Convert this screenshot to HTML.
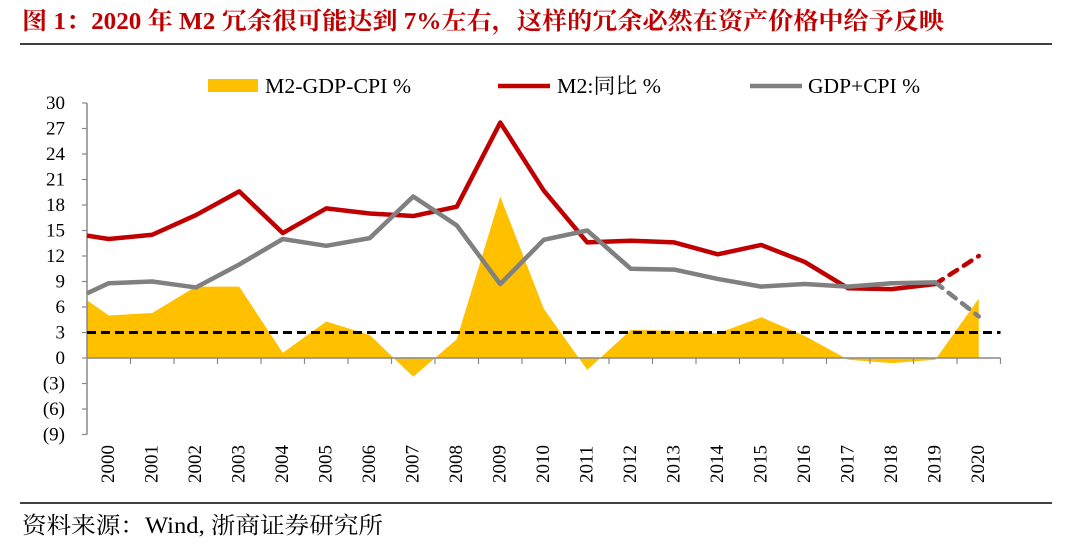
<!DOCTYPE html>
<html><head><meta charset="utf-8"><style>
body{margin:0;background:#fff;width:1080px;height:549px;overflow:hidden}
svg text{font-family:"Liberation Serif","Noto Serif CJK SC",serif}
</style></head><body>
<svg id="c" width="1080" height="549">
<text x="22" y="29" font-size="24" font-weight="bold" fill="#C00000" textLength="922" lengthAdjust="spacingAndGlyphs">图 1：2020 年 M2 冗余很可能达到 7%左右，这样的冗余必然在资产价格中给予反映</text>
<line x1="20" y1="44" x2="1052" y2="44" stroke="#000" stroke-width="1.5"/>
<line x1="20" y1="503" x2="1052" y2="503" stroke="#000" stroke-width="1.5"/>
<text x="22" y="533" font-size="23" textLength="361" lengthAdjust="spacingAndGlyphs">资料来源：Wind, 浙商证券研究所</text>
<g id="legend">
<rect x="208" y="79" width="50" height="13" fill="#FFC000"/>
<text x="265" y="93" font-size="21" textLength="146" lengthAdjust="spacingAndGlyphs">M2-GDP-CPI %</text>
<line x1="498" y1="86" x2="550" y2="86" stroke="#C00000" stroke-width="4.5"/>
<text x="557" y="93" font-size="21" textLength="104" lengthAdjust="spacingAndGlyphs">M2:同比 %</text>
<line x1="750" y1="86" x2="802" y2="86" stroke="#808080" stroke-width="4.5"/>
<text x="808" y="93" font-size="21" textLength="112" lengthAdjust="spacingAndGlyphs">GDP+CPI %</text>
</g>
<g id="plot"></g>
</svg>
<script>
const years=[2000,2001,2002,2003,2004,2005,2006,2007,2008,2009,2010,2011,2012,2013,2014,2015,2016,2017,2018,2019,2020];
const yTicks=[30,27,24,21,18,15,12,9,6,3,0,-3,-6,-9];
const yTickLabels=["30","27","24","21","18","15","12","9","6","3","0","(3)","(6)","(9)"];
// first value is at the left edge (start of 2000 band), then one per year
const m2=[14.4,14.0,14.5,16.8,19.6,14.7,17.6,17.0,16.7,17.8,27.7,19.7,13.6,13.8,13.6,12.2,13.3,11.3,8.2,8.1,8.7,12.0];
const gdpCpi=[7.6,8.8,9.0,8.3,11.0,14.0,13.2,14.1,19.0,15.6,8.7,13.9,15.0,10.5,10.4,9.3,8.4,8.7,8.4,8.8,8.9,4.9];
const excess=[6.8,5.0,5.3,8.4,8.4,0.6,4.3,2.7,-2.2,2.2,19.0,5.8,-1.4,3.3,3.2,2.9,4.8,2.6,-0.2,-0.6,-0.2,7.0];
const refLevel=3;
const NS="http://www.w3.org/2000/svg";
const g=document.getElementById('plot');
const L=87,R=1000.5,band=(R-L)/years.length;
const y=v=>358-(v)*8.5;
const xi=i=>i===0?L:L+band*(i-1)+band/2;
function mk(t,a){const e=document.createElementNS(NS,t);for(const k in a)e.setAttribute(k,a[k]);g.appendChild(e);return e;}
let d=`M${xi(0)},${y(0)}`;excess.forEach((v,i)=>d+=`L${xi(i)},${y(v)}`);d+=`L${xi(excess.length-1)},${y(0)}Z`;
const area=mk('path',{d:d,fill:'#FFC000'});


const ya=mk('line',{x1:L,y1:y(30),x2:L,y2:y(-9),stroke:'#888','stroke-width':1.5});


yTicks.forEach((v,i)=>{
 const t=mk('line',{x1:L-5,y1:y(v),x2:L,y2:y(v),stroke:'#888','stroke-width':1.2});
 
 
 const tx=mk('text',{x:65,y:y(v)+6,'font-size':19,'text-anchor':'end'});tx.textContent=yTickLabels[i];
 
 
});
const xa=mk('line',{x1:L,y1:y(0),x2:R,y2:y(0),stroke:'#888','stroke-width':1.5});


years.forEach((yr,i)=>{
 const tx0=L+band*(i+1);
 const t=mk('line',{x1:tx0,y1:y(0),x2:tx0,y2:y(0)+6,stroke:'#888','stroke-width':1.2});
 
 
 const cx=L+band*i+band/2+5;
 const tx=mk('text',{x:cx,y:483,'font-size':19,transform:`rotate(-90 ${cx} 483)`});tx.textContent=yr;
 
 
});
const ref=mk('line',{x1:L,y1:y(refLevel),x2:R,y2:y(refLevel),stroke:'#000','stroke-width':3,'stroke-dasharray':'9,5'});


function line(arr,col,name){
 const n=arr.length;
 let p='';for(let i=0;i<n-1;i++)p+=(i?'L':'M')+xi(i)+','+y(arr[i]);
 const s=mk('path',{d:p,fill:'none',stroke:col,'stroke-width':4.5,'stroke-linejoin':'round'});
 
 
 const ds=mk('line',{x1:xi(n-2),y1:y(arr[n-2]),x2:xi(n-1),y2:y(arr[n-1]),stroke:col,'stroke-width':4.5,'stroke-dasharray':'9,8','stroke-linecap':'round'});
 
 
}
line(m2,'#C00000','m2-yoy');
line(gdpCpi,'#808080','gdp-cpi');
</script>
</body></html>
